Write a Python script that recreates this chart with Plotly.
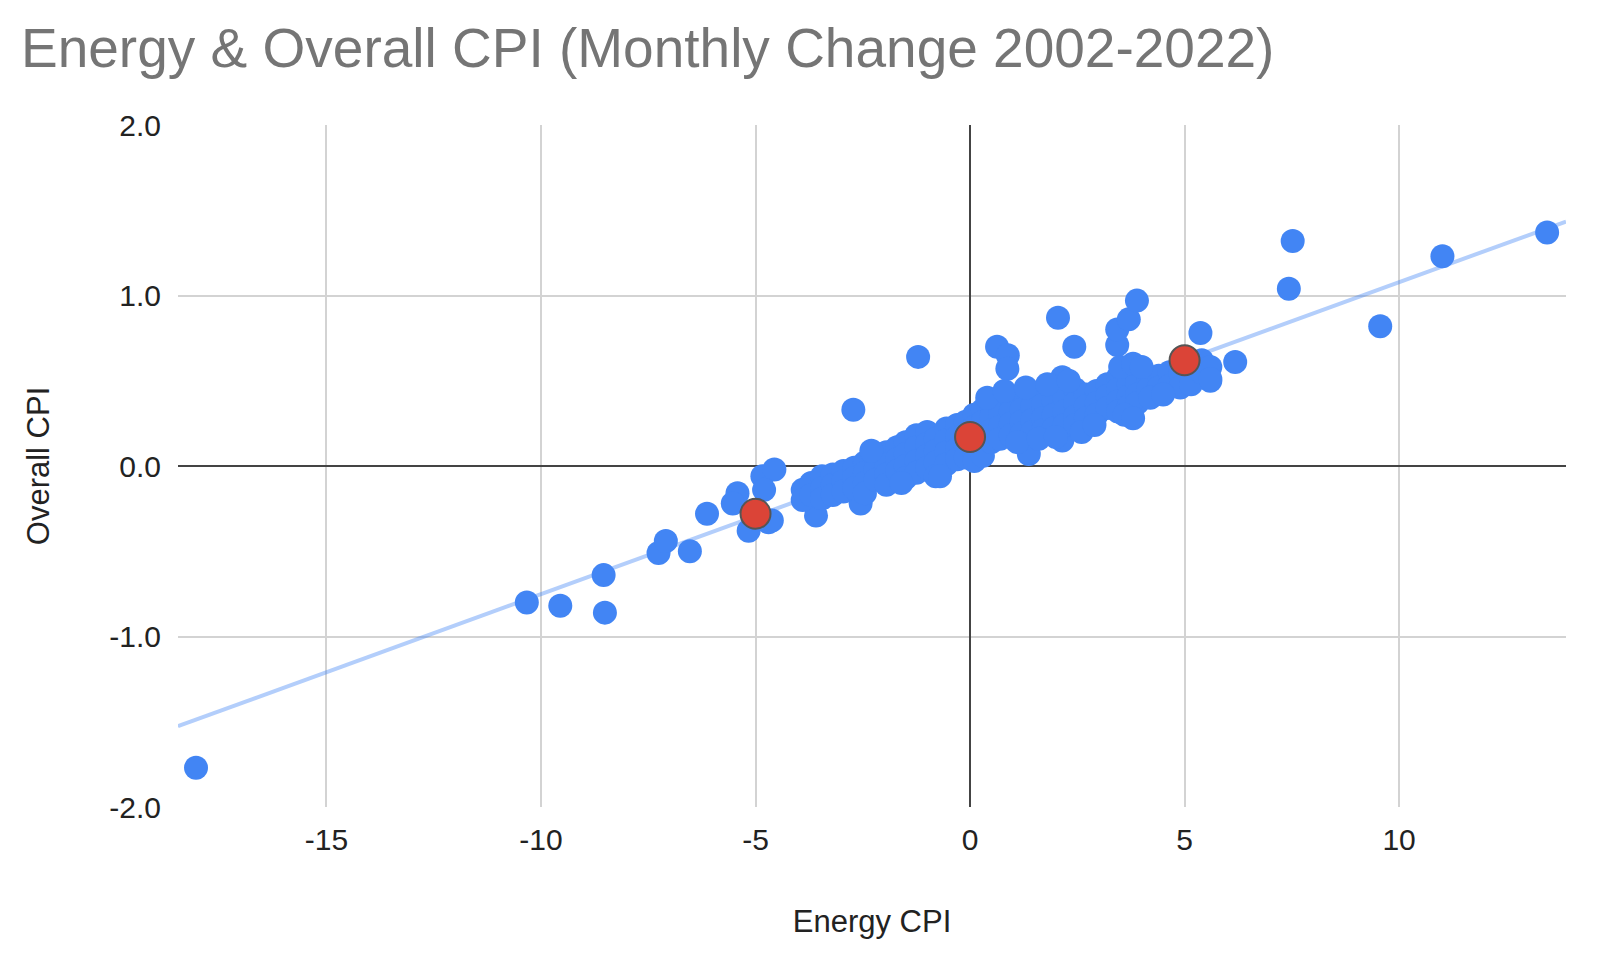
import plotly.graph_objects as go

# ---- data ----
energy_cpi = [
    # outliers / sparse points
    -18.04, -10.33, -9.55, -8.51, -8.54, -7.26, -7.09, -6.53, -6.13,
    -5.42, -5.53, -5.16, -4.84, -4.56, -4.80, -4.62, -4.70, -5.00,
    -3.59, -2.72, -1.21, -2.55, 0.63, 0.88, 0.87, 1.37, 2.05, 2.43,
    2.15, 2.15, 3.43, 3.43, 3.70, 3.89, 5.37, 6.18, 5.60, 7.43, 7.52,
    9.56, 11.01, 13.45,
    # main cluster
    -3.90, -3.90, -3.70, -3.70, -3.45, -3.45, -3.45, -3.20, -3.20, -3.20,
    -2.95, -2.95, -2.95, -2.70, -2.70, -2.70, -2.45, -2.45, -2.45, -2.45,
    -2.20, -2.20, -2.20, -1.95, -1.95, -1.95, -1.95, -1.70, -1.70, -1.70,
    -1.50, -1.50, -1.50, -1.50, -1.25, -1.25, -1.25, -1.25, -1.00, -1.00,
    -1.00, -1.00, -0.80, -0.80, -0.80, -0.80, -0.55, -0.55, -0.55, -0.55,
    -0.30, -0.30, -0.30, -0.30, -0.10, -0.10, -0.10, -0.10, 0.10, 0.10,
    0.10, 0.10, 0.10, 0.30, 0.30, 0.30, 0.30, 0.30, 0.50, 0.50, 0.50,
    0.50, 0.70, 0.70, 0.70, 0.70, 0.95, 0.95, 0.95, 0.95, 1.20, 1.20,
    1.20, 1.20, 1.45, 1.45, 1.45, 1.45, 1.70, 1.70, 1.70, 1.70, 1.95,
    1.95, 1.95, 1.95, 2.20, 2.20, 2.20, 2.20, 2.45, 2.45, 2.45, 2.45,
    2.70, 2.70, 2.70, 2.95, 2.95, 2.95, 3.20, 3.20, 3.20, 3.45, 3.45,
    3.45, 3.45, 3.70, 3.70, 3.70, 3.70, 3.90, 3.90, 3.90, 3.90, 4.15,
    4.15, 4.40, 4.40, 4.65, 4.65, 4.90, 4.90, 5.15, 5.15, 5.40, 5.40,
    5.60, 5.60,
    # band edges
    3.60, 3.80, 3.50, 3.80, 4.00, 1.10, 1.60, 2.00, 2.60, 2.90,
    0.40, 0.80, 1.30, 1.80, 2.30, 4.20, 4.50, -1.60, -0.70, -2.30,
]
overall_cpi = [
    -1.77, -0.80, -0.82, -0.86, -0.64, -0.51, -0.44, -0.50, -0.28,
    -0.16, -0.22, -0.38, -0.06, -0.02, -0.14, -0.32, -0.33, -0.26,
    -0.29, 0.33, 0.64, -0.22, 0.70, 0.65, 0.57, 0.07, 0.87, 0.70,
    0.52, 0.15, 0.71, 0.80, 0.86, 0.97, 0.78, 0.61, 0.50, 1.04, 1.32,
    0.82, 1.23, 1.37,
    -0.14, -0.20, -0.10, -0.17, -0.06, -0.13, -0.19, -0.05, -0.11, -0.17,
    -0.03, -0.09, -0.15, -0.01, -0.07, -0.13, 0.02, -0.04, -0.10, -0.16,
    0.05, -0.02, -0.08, 0.08, 0.01, -0.05, -0.11, 0.11, 0.04, -0.03,
    0.14, 0.07, 0.00, -0.07, 0.18, 0.11, 0.03, -0.04, 0.20, 0.13,
    0.06, -0.01, 0.16, 0.09, 0.02, -0.06, 0.22, 0.15, 0.08, 0.01,
    0.24, 0.17, 0.10, 0.04, 0.26, 0.19, 0.12, 0.05, 0.30, 0.23,
    0.15, 0.08, 0.03, 0.33, 0.26, 0.18, 0.11, 0.06, 0.37, 0.29, 0.21,
    0.14, 0.39, 0.31, 0.23, 0.16, 0.40, 0.32, 0.25, 0.18, 0.41, 0.33,
    0.26, 0.19, 0.43, 0.35, 0.27, 0.20, 0.44, 0.36, 0.28, 0.21, 0.46,
    0.38, 0.30, 0.22, 0.48, 0.40, 0.32, 0.24, 0.45, 0.37, 0.29, 0.24,
    0.42, 0.35, 0.28, 0.44, 0.37, 0.30, 0.48, 0.41, 0.34, 0.52, 0.45,
    0.38, 0.32, 0.55, 0.48, 0.41, 0.35, 0.56, 0.49, 0.42, 0.37, 0.52,
    0.45, 0.53, 0.46, 0.55, 0.47, 0.55, 0.46, 0.57, 0.48, 0.62, 0.55,
    0.58, 0.51,
    0.30, 0.28, 0.58, 0.60, 0.58, 0.14, 0.16, 0.17, 0.20, 0.24,
    0.40, 0.44, 0.46, 0.48, 0.50, 0.40, 0.42, -0.10, -0.06, 0.09,
]

# highlighted points (on the trendline)
highlight_x = [-5, 0, 5]
highlight_y = [-0.28, 0.17, 0.62]

# linear trendline
trend_slope = 0.0915
trend_intercept = 0.163
x_range = [-18.46, 13.89]
y_range = [-2.0, 2.0]
x_ticks = [-15, -10, -5, 0, 5, 10]
y_ticks = [-2.0, -1.0, 0.0, 1.0, 2.0]
y_tick_labels = ["-2.0", "-1.0", "0.0", "1.0", "2.0"]

trend_x = x_range
trend_y = [trend_intercept + trend_slope * v for v in trend_x]

FONT = "Liberation Sans, Arial, Helvetica, sans-serif"
BLUE = "#4285F4"

fig = go.Figure()
fig.add_trace(go.Scatter(
    x=trend_x, y=trend_y, mode="lines",
    line=dict(color="rgba(66,133,244,0.4)", width=4),
    hoverinfo="skip", showlegend=False,
))
fig.add_trace(go.Scatter(
    x=energy_cpi, y=overall_cpi, mode="markers",
    marker=dict(color=BLUE, size=24, line=dict(width=0)),
    name="Overall CPI", showlegend=False,
))
fig.add_trace(go.Scatter(
    x=highlight_x, y=highlight_y, mode="markers",
    marker=dict(color="#DB4437", size=30, line=dict(color="#555555", width=2)),
    showlegend=False,
))

fig.update_layout(
    width=1600, height=958,
    paper_bgcolor="white", plot_bgcolor="white",
    margin=dict(l=170, r=42, t=117, b=159),
    font=dict(family=FONT, color="#222222", size=30),
    title=dict(
        text="Energy & Overall CPI (Monthly Change 2002-2022)",
        font=dict(family=FONT, size=55, color="#757575"),
        xref="container", yref="container",
        x=13 / 1600, xanchor="left",
        y=1 - 40 / 958, yanchor="middle",
    ),
    xaxis=dict(
        range=x_range, tickvals=x_ticks, ticktext=[str(t) for t in x_ticks],
        showgrid=True, gridcolor="#D3D3D3", gridwidth=2,
        zeroline=True, zerolinecolor="#444444", zerolinewidth=2,
        showline=False, ticks="", ticklabelstandoff=12,
        tickfont=dict(size=30, color="#222222"),
        title=dict(text="Energy CPI", font=dict(size=31, color="#222222"), standoff=55),
        fixedrange=True,
    ),
    yaxis=dict(
        range=y_range, tickvals=y_ticks, ticktext=y_tick_labels,
        showgrid=True, gridcolor="#D3D3D3", gridwidth=2,
        zeroline=True, zerolinecolor="#444444", zerolinewidth=2,
        showline=False, ticks="", ticklabelstandoff=16,
        tickfont=dict(size=30, color="#222222"),
        title=dict(text="Overall CPI", font=dict(size=31, color="#222222"), standoff=50),
        fixedrange=True,
    ),
)

fig.write_html("out.html")
